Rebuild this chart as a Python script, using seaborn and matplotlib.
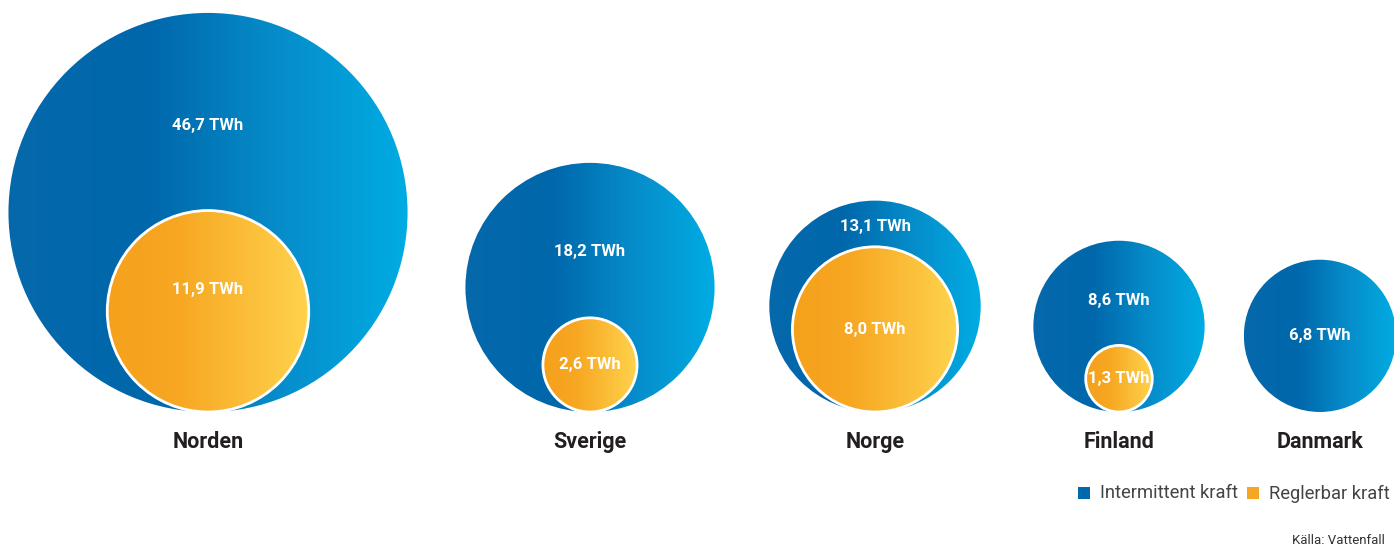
import numpy as np
import matplotlib
matplotlib.use("Agg")
import matplotlib.pyplot as plt
from matplotlib.patches import Circle, Rectangle
from matplotlib.colors import LinearSegmentedColormap
import seaborn as sns

# ---- data ----
countries = ["Norden", "Sverige", "Norge", "Finland", "Danmark"]
intermittent = [46.7, 18.2, 13.1, 8.6, 6.8]      # TWh
reglerbar = [11.9, 2.6, 8.0, 1.3, None]          # TWh
legend_labels = ["Intermittent kraft", "Reglerbar kraft"]
source_text = "Källa: Vattenfall"

# ---- layout (pixel coordinates) ----
W, H = 1394, 547
centers_x = [208, 590, 875, 1119, 1320]
baseline = 412
k = 29.2  # radius per sqrt(TWh)

sns.set_theme(style="white")
plt.rcParams["font.family"] = ["Roboto", "DejaVu Sans"]

fig = plt.figure(figsize=(W / 100, H / 100), dpi=100)
ax = fig.add_axes([0, 0, 1, 1])
ax.set_xlim(0, W)
ax.set_ylim(H, 0)
ax.set_aspect("equal")
ax.axis("off")

blue_cmap = LinearSegmentedColormap.from_list(
    "blue", [(0, "#0569ac"), (0.35, "#0067ab"), (0.7, "#068fcc"), (1, "#00ace3")])
orange_cmap = LinearSegmentedColormap.from_list(
    "orange", [(0, "#f5a11c"), (0.35, "#f7a722"), (1, "#ffd34d")])
grad = np.linspace(0, 1, 256).reshape(1, -1)


def grad_circle(cx, cy, r, cmap, z, edge=None, lw=0):
    circ = Circle((cx, cy), r, facecolor="none", edgecolor="none")
    ax.add_patch(circ)
    im = ax.imshow(grad, cmap=cmap, extent=(cx - r, cx + r, cy + r, cy - r),
                   aspect="auto", zorder=z, interpolation="bicubic")
    im.set_clip_path(circ)
    if edge:
        ax.add_patch(Circle((cx, cy), r, facecolor="none", edgecolor=edge,
                            linewidth=lw, zorder=z + 0.5))


for i, c in enumerate(countries):
    cx = centers_x[i]
    R = k * np.sqrt(intermittent[i])
    cyR = baseline - R
    grad_circle(cx, cyR, R, blue_cmap, 1)
    top = baseline - 2 * R
    if reglerbar[i] is not None:
        r = k * np.sqrt(reglerbar[i])
        cyr = baseline - r
        grad_circle(cx, cyr, r, orange_cmap, 3, edge="white", lw=2)
        otop = baseline - 2 * r
        ly = top + 0.57 * (otop - top)
        oly = cyr - (0.22 * r if i == 0 else 0.0)
        ax.text(cx, oly, f"{reglerbar[i]:.1f}".replace(".", ",") + " TWh",
                ha="center", va="center", color="white", fontsize=12,
                fontweight="bold", zorder=5)
    else:
        ly = cyR
    ax.text(cx, ly, f"{intermittent[i]:.1f}".replace(".", ",") + " TWh",
            ha="center", va="center", color="white", fontsize=12,
            fontweight="bold", zorder=5)
    ax.text(cx, 442, c, ha="center", va="center", color="#231f20",
            fontsize=15.5, fontweight="bold")

# legend
leg_cols = ["#0068ad", "#f5a623"]
leg_x = [1078, 1247]
for lx, col, lab in zip(leg_x, leg_cols, legend_labels):
    ax.add_patch(Rectangle((lx, 487), 12, 12, facecolor=col, edgecolor="none"))
    ax.text(lx + 22, 493.5, lab, ha="left", va="center", color="#444444",
            fontsize=13.2, fontweight="normal")

ax.text(1385, 540, source_text, ha="right", va="center", color="#333333",
        fontsize=9.5)

fig.savefig("out.png", dpi=100, facecolor="white")
